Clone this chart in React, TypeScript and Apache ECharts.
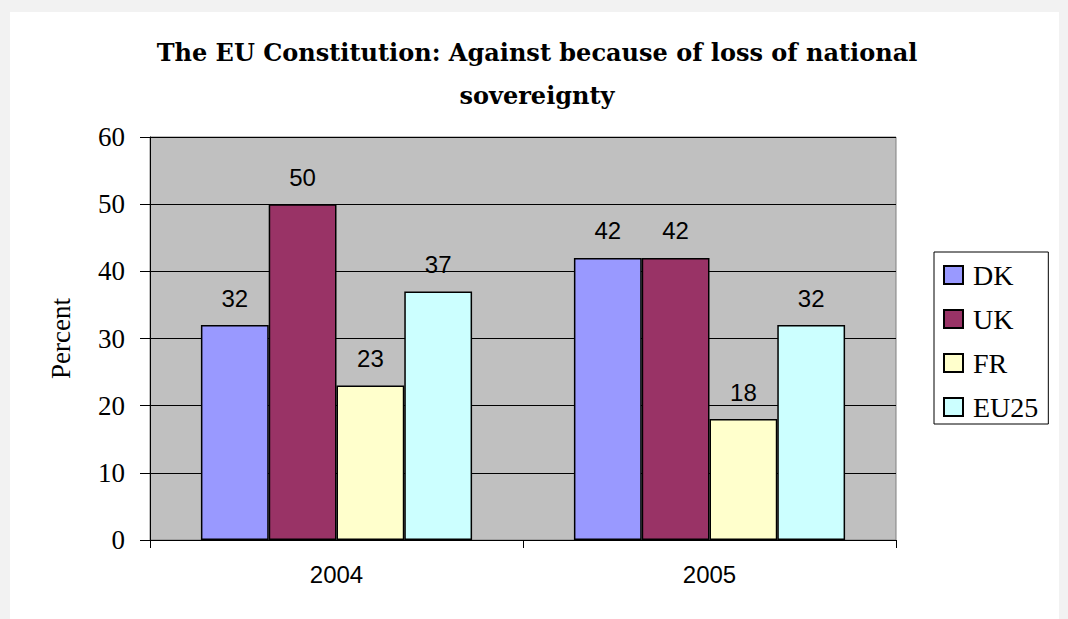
import React, { useEffect, useRef } from "react";
import * as echarts from "echarts";

const categories = ["2004", "2005"];
const seriesNames = ["DK", "UK", "FR", "EU25"];
const dkValues = [32, 42];
const ukValues = [50, 42];
const frValues = [23, 18];
const eu25Values = [37, 32];
const colors = ["#9999FF", "#993366", "#FFFFCC", "#CCFFFF"];
const yTicks = [0, 10, 20, 30, 40, 50, 60];

export default function App() {
  const ref = useRef<HTMLDivElement>(null);
  useEffect(() => {
    document.body.style.margin = "0";
    if (!ref.current) return;
    const chart = echarts.init(ref.current, null, { renderer: "svg" });
    const values = [dkValues, ukValues, frValues, eu25Values];
    const serif = "Liberation Serif";
    const sans = "Liberation Sans";
    chart.setOption({
      animation: false,
      backgroundColor: "#f2f2f2",
      graphic: [
        {
          type: "rect",
          z: -10,
          shape: { x: 10, y: 12, width: 1049, height: 620 },
          style: { fill: "#ffffff" },
          silent: true,
        },
      ],
      title: {
        text: "The EU Constitution: Against because of loss of national\nsovereignty",
        left: 532,
        textAlign: "center",
        top: 26,
        textStyle: {
          fontFamily: "DejaVu Serif",
          fontSize: 24,
          fontWeight: "bold",
          color: "#000",
          lineHeight: 43,
        },
      },
      legend: {
        orient: "vertical",
        left: 934,
        top: 252,
        itemWidth: 19,
        itemHeight: 18,
        itemGap: 16,
        padding: [9, 10, 3, 9],
        borderColor: "#000",
        borderWidth: 1,
        backgroundColor: "#fff",
        icon: "rect",
        textStyle: {
          fontFamily: serif,
          fontSize: 28,
          lineHeight: 28,
          color: "#000",
          padding: [0, 0, 0, 5],
        },
        data: seriesNames,
      },
      grid: {
        left: 150,
        right: 172,
        top: 137,
        bottom: 79,
        show: true,
        backgroundColor: "#c0c0c0",
        borderColor: "#808080",
        borderWidth: 1,
      },
      xAxis: {
        type: "category",
        data: categories,
        axisLine: { show: true, lineStyle: { color: "#000", width: 1 } },
        axisTick: { show: true, length: 8, lineStyle: { color: "#000" }, alignWithLabel: false },
        axisLabel: { fontFamily: sans, fontSize: 24, color: "#000", margin: 22 },
      },
      yAxis: {
        type: "value",
        min: yTicks[0],
        max: yTicks[yTicks.length - 1],
        interval: 10,
        name: "Percent",
        nameLocation: "middle",
        nameGap: 76,
        nameRotate: 90,
        nameTextStyle: { fontFamily: serif, fontSize: 27, color: "#000" },
        axisLine: { show: true, lineStyle: { color: "#000", width: 1 } },
        axisTick: { show: true, length: 10, lineStyle: { color: "#000" } },
        axisLabel: {
          fontFamily: serif,
          fontSize: 27,
          color: "#000",
          margin: 25,
          padding: [14, 0, 0, 0],
        },
        splitLine: { show: true, lineStyle: { color: "#000", width: 1 } },
      },
      series: seriesNames.map((name, i) => ({
        name,
        type: "bar",
        data: values[i],
        barGap: "0%",
        barCategoryGap: "27.3%",
        itemStyle: { color: colors[i], borderColor: "#000", borderWidth: 1.5 },
        label: {
          show: true,
          position: "top",
          distance: 15,
          fontFamily: sans,
          fontSize: 24,
          color: "#000",
        },
      })),
    });
    return () => chart.dispose();
  }, []);
  return <div ref={ref} style={{ width: 1068, height: 619 }} />;
}
